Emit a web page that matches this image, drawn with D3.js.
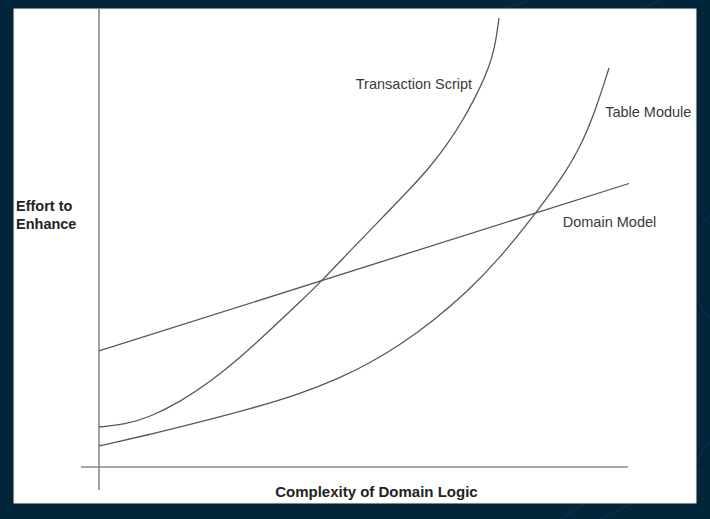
<!DOCTYPE html>
<html>
<head>
<meta charset="utf-8">
<script src="https://cdn.jsdelivr.net/npm/d3@7"></script>
<style>
  html, body { margin: 0; padding: 0; background: #03253a; }
  svg { display: block; }
</style>
</head>
<body>
<svg id="chart" width="710" height="519"></svg>
<script>
// ---- data (arbitrary units: complexity 0..100, effort 0..100) ----
const seriesNames = ["Transaction Script", "Table Module", "Domain Model"];
const transactionX = [0, 4.91, 9.62, 15.28, 20.94, 26.60, 32.26, 37.92, 41.89, 47.36, 53.02, 58.68, 62.45, 65.66, 68.68, 70.94, 72.83, 74.15, 74.91, 75.47];
const transactionY = [8.89, 9.44, 11.11, 14.44, 18.89, 24.22, 30.44, 36.67, 41.22, 48.0, 54.89, 61.78, 66.67, 71.56, 77.11, 82.0, 86.67, 90.89, 94.89, 99.78];
const tableX = [0, 9.62, 19.06, 28.49, 37.92, 45.47, 51.13, 56.79, 63.02, 69.43, 75.66, 82.26, 86.98, 90.75, 93.58, 96.23];
const tableY = [4.67, 7.22, 10.0, 12.89, 16.22, 19.78, 23.11, 27.11, 32.44, 38.89, 46.44, 56.22, 63.56, 70.89, 78.89, 88.67];
const domainX = [0, 100];
const domainY = [25.8, 63.0];
const xAxisTitle = "Complexity of Domain Logic";
const yAxisTitle = ["Effort to", "Enhance"];

// ---- layout ----
const svg = d3.select("#chart");
const W = 710, H = 519;
const font = "'Liberation Sans', Arial, Helvetica, sans-serif";

// background decoration
svg.append("rect").attr("width", W).attr("height", H).attr("fill", "#03253a");
const deco = [[600, 519, 700, 470], [690, 470, 710, 440], [560, 519, 640, 470], [500, 10, 530, 0], [640, 10, 660, 0], [697, 230, 710, 215], [697, 300, 710, 320]];
svg.append("g").selectAll("line").data(deco).join("line")
  .attr("x1", d => d[0]).attr("y1", d => d[1]).attr("x2", d => d[2]).attr("y2", d => d[3])
  .attr("stroke", "#0d3550").attr("stroke-width", 1);

// white panel
svg.append("rect").attr("x", 14).attr("y", 9).attr("width", 682).attr("height", 494)
  .attr("fill", "#ffffff").attr("stroke", "#f6eedd").attr("stroke-width", 1);

const x = d3.scaleLinear().domain([0, 100]).range([99, 629]);
const y = d3.scaleLinear().domain([0, 100]).range([467, 17]);

// axes (plain lines, no ticks)
const g = svg.append("g");
g.append("line")
  .attr("x1", x(0)).attr("x2", x(0))
  .attr("y1", y(101.8)).attr("y2", y(-5.1))
  .attr("stroke", "#8a8a8a").attr("stroke-width", 1.6);
g.append("line")
  .attr("x1", x(-3.4)).attr("x2", x(99.8))
  .attr("y1", y(0)).attr("y2", y(0))
  .attr("stroke", "#8a8a8a").attr("stroke-width", 1.6);

// series
const zip = (xs, ys) => xs.map((v, i) => [v, ys[i]]);
const series = [
  zip(transactionX, transactionY),
  zip(tableX, tableY),
  zip(domainX, domainY)
];
const line = d3.line().x(d => x(d[0])).y(d => y(d[1])).curve(d3.curveBasis);
g.selectAll("path.series").data(series).join("path")
  .attr("class", "series")
  .attr("d", line)
  .attr("fill", "none")
  .attr("stroke", "#585858")
  .attr("stroke-width", 1.3);

// series labels (anchored in data space)
const labelPos = [
  { x: 70.4, y: 84.0, anchor: "end" },
  { x: 95.5, y: 77.8, anchor: "start" },
  { x: 87.5, y: 53.3, anchor: "start" }
];
g.selectAll("text.label").data(seriesNames).join("text")
  .attr("class", "label")
  .attr("x", (d, i) => x(labelPos[i].x))
  .attr("y", (d, i) => y(labelPos[i].y))
  .attr("text-anchor", (d, i) => labelPos[i].anchor)
  .attr("font-family", font)
  .attr("font-size", 14.5)
  .attr("fill", "#3a3a3a")
  .text(d => d);

// axis titles
svg.append("text")
  .attr("x", (x(-3.4) + x(99.8)) / 2 + 22)
  .attr("y", 497)
  .attr("text-anchor", "middle")
  .attr("font-family", font)
  .attr("font-weight", "bold")
  .attr("font-size", 15)
  .attr("fill", "#222")
  .text(xAxisTitle);

svg.append("g").selectAll("text").data(yAxisTitle).join("text")
  .attr("x", 16)
  .attr("y", (d, i) => 211 + i * 18)
  .attr("font-family", font)
  .attr("font-weight", "bold")
  .attr("font-size", 14.5)
  .attr("fill", "#222")
  .text(d => d);
</script>
</body>
</html>
